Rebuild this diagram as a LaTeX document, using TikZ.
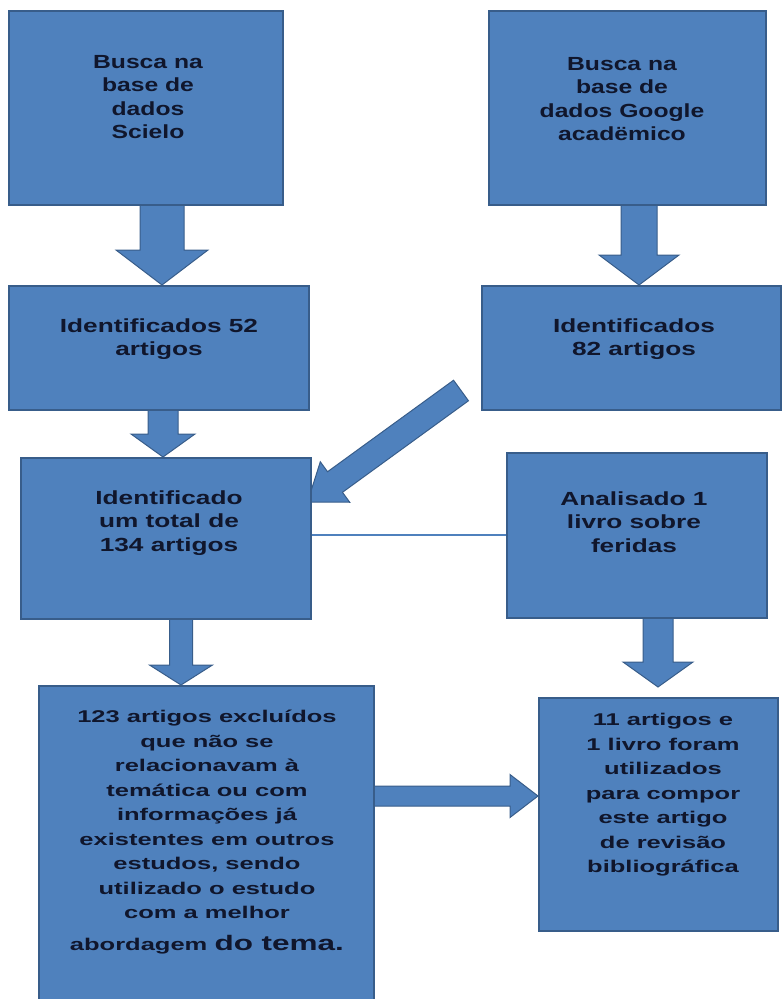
\documentclass[tikz,border=0pt]{standalone}
\usepackage{fontspec}
\setmainfont{Liberation Sans}
\newfontfamily\fntA[FakeStretch=1.30]{Liberation Sans}
\newfontfamily\fntB[FakeStretch=1.38]{Liberation Sans}
\newfontfamily\fntC[FakeStretch=1.50]{Liberation Sans}
\usetikzlibrary{calc,backgrounds}
\definecolor{boxfill}{RGB}{79,129,189}
\definecolor{boxline}{RGB}{56,93,138}
\definecolor{boxtext}{RGB}{16,22,44}
\begin{document}
\begin{tikzpicture}[x=1pt,y=-1pt,
  box/.style={draw=boxline,fill=boxfill,line width=1.5pt,anchor=north west,inner sep=0pt},
  txtA/.style={text=boxtext,align=center,font=\fntA\bfseries\fontsize{19}{23.5}\selectfont},
  txtB/.style={text=boxtext,align=center,font=\fntB\bfseries\fontsize{19}{23.5}\selectfont},
  txtC/.style={text=boxtext,align=center,font=\fntC\bfseries\fontsize{17}{24.5}\selectfont},
  link/.style={draw=boxfill,line width=2.2pt},
  fat/.style n args={3}{fill=boxfill,draw=boxline,line width=1pt,line join=miter,
    to path={($(\tikztostart)!#1!90:(\tikztotarget)$)
      -- ($(\tikztotarget)!#3!(\tikztostart)!#1!90:(\tikztotarget)$)
      -- ($(\tikztotarget)!#3!(\tikztostart)!#2!90:(\tikztotarget)$)
      -- (\tikztotarget)
      -- ($(\tikztotarget)!#3!(\tikztostart)!#2!-90:(\tikztotarget)$)
      -- ($(\tikztotarget)!#3!(\tikztostart)!#1!-90:(\tikztotarget)$)
      -- ($(\tikztostart)!#1!-90:(\tikztotarget)$) -- cycle}}]
  \useasboundingbox (0,0) rectangle (782,999);

  \node[box,minimum width=274pt,minimum height=194pt] (scielo) at (8,10) {};
  \node[box,minimum width=277pt,minimum height=194pt] (scholar) at (488,10) {};
  \node[box,minimum width=300pt,minimum height=124pt] (ident52) at (8,285) {};
  \node[box,minimum width=299pt,minimum height=124pt] (ident82) at (481,285) {};
  \node[box,minimum width=290pt,minimum height=161pt] (total134) at (20,457) {};
  \node[box,minimum width=260pt,minimum height=165pt] (livro) at (506,452) {};
  \node[box,minimum width=335pt,minimum height=320pt] (exclude) at (38,685) {};
  \node[box,minimum width=239pt,minimum height=233pt] (final) at (538,697) {};

  \node[txtA] (scieloT) at (148,97) {Busca na\\base de\\dados\\Scielo};
  \node[txtA] (scholarT) at (622,99) {Busca na\\base de\\dados Google\\acadëmico};
  \node[txtB] (ident52T) at (159,339) {Identificados 52\\artigos};
  \node[txtB] (ident82T) at (634,339) {Identificados\\82 artigos};
  \node[txtB] (total134T) at (169,523) {Identificado\\um total de\\134 artigos};
  \node[txtB] (livroT) at (634,522) {Analisado 1\\livro sobre\\feridas};
  \node[txtC] (excludeT) at (207,832) {123 artigos excluídos\\que não se\\relacionavam à\\temática ou com\\informações já\\existentes em outros\\estudos, sendo\\utilizado o estudo\\com a melhor\\[7pt]abordagem {\fontsize{21}{26}\selectfont do tema.}};
  \node[txtC] (finalT) at (663,795) {11 artigos e\\1 livro foram\\utilizados\\para compor\\este artigo\\de revisão\\bibliográfica};

  \coordinate (a1) at (162,204);
  \coordinate (a2) at (639,204);
  \coordinate (a3) at (163,409);
  \coordinate (a4) at (181,618);
  \coordinate (a5) at (658,617);
  \coordinate (a6) at (373,796);
  \coordinate (d7s) at ([shift={(-20pt,20pt)}]ident82.south west);
  \coordinate (d7e) at ([shift={(-4pt,-45pt)}]total134.north east);

  \begin{scope}[on background layer]
    \draw[fat={22pt}{46pt}{35pt}] (a1) to (a1 |- ident52.north);
    \draw[fat={18pt}{40pt}{30pt}] (a2) to (a2 |- ident82.north);
    \draw[fat={15pt}{32pt}{23pt}] (a3) to (a3 |- total134.north);
    \draw[fat={11.5pt}{31.5pt}{20pt}] (a4) to (a4 |- exclude.north);
    \draw[fat={15pt}{35pt}{25pt}] (a5) to ($(a5 |- final.north)+(0,-10)$);
    \draw[fat={10pt}{21.5pt}{28pt}] (a6) to (a6 -| final.west);
    \draw[fat={12.7pt}{25pt}{34pt}] (d7s) to (d7e);
    \draw[link] (livro.west -| total134.east) -- (livro.west);
  \end{scope}
\end{tikzpicture}
\end{document}
